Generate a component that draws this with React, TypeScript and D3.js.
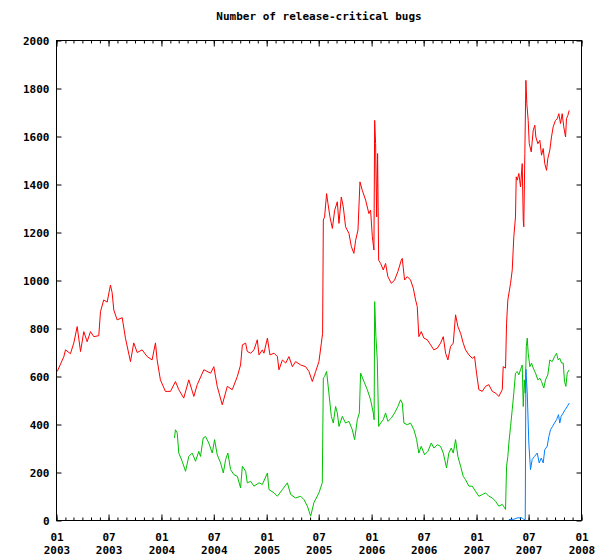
import { useEffect, useRef } from "react"
import * as d3 from "d3"

// [decimal year, number of bugs]
const redSeries: [number, number][] = [
  [2003.007, 621], [2003.07, 683], [2003.086, 711], [2003.133, 695], [2003.165, 740],
  [2003.197, 808], [2003.229, 704], [2003.26, 787], [2003.292, 745], [2003.324, 787],
  [2003.355, 766], [2003.403, 770], [2003.419, 870], [2003.45, 919], [2003.483, 910],
  [2003.514, 981], [2003.53, 950], [2003.546, 877], [2003.578, 836], [2003.626, 845],
  [2003.657, 760], [2003.705, 662], [2003.736, 740], [2003.769, 700], [2003.816, 711],
  [2003.864, 683], [2003.911, 669], [2003.943, 740], [2003.959, 669], [2003.99, 586],
  [2004.038, 538], [2004.086, 538], [2004.133, 579], [2004.165, 545], [2004.212, 510],
  [2004.26, 586], [2004.308, 517], [2004.34, 566], [2004.403, 628], [2004.467, 614],
  [2004.498, 641], [2004.53, 559], [2004.578, 482], [2004.626, 559], [2004.673, 545],
  [2004.721, 600], [2004.752, 648], [2004.769, 732], [2004.8, 739], [2004.816, 704],
  [2004.848, 697], [2004.879, 711], [2004.911, 753], [2004.927, 690], [2004.959, 711],
  [2004.974, 697], [2005.007, 760], [2005.031, 690], [2005.07, 697], [2005.102, 683],
  [2005.117, 628], [2005.15, 669], [2005.181, 656], [2005.212, 683], [2005.245, 641],
  [2005.276, 662], [2005.324, 648], [2005.371, 641], [2005.403, 621], [2005.435, 579],
  [2005.467, 621], [2005.498, 662], [2005.521, 739], [2005.533, 780], [2005.54, 1252],
  [2005.552, 1265], [2005.571, 1362], [2005.584, 1321], [2005.603, 1265], [2005.626, 1217],
  [2005.648, 1293], [2005.673, 1328], [2005.689, 1238], [2005.711, 1348], [2005.73, 1307],
  [2005.752, 1224], [2005.784, 1196], [2005.807, 1141], [2005.831, 1113], [2005.848, 1168],
  [2005.87, 1210], [2005.889, 1411], [2005.911, 1376], [2005.943, 1335], [2005.974, 1279],
  [2005.99, 1293], [2006.007, 1182], [2006.022, 1127], [2006.029, 1667], [2006.038, 1570],
  [2006.048, 1265], [2006.057, 1529], [2006.067, 1085], [2006.086, 1071], [2006.111, 1044],
  [2006.133, 1071], [2006.155, 1016], [2006.188, 988], [2006.219, 1002], [2006.25, 1037],
  [2006.283, 1085], [2006.292, 1092], [2006.314, 1002], [2006.34, 1016], [2006.371, 1002],
  [2006.397, 968], [2006.419, 919], [2006.435, 891], [2006.45, 766], [2006.473, 787],
  [2006.498, 760], [2006.53, 753], [2006.562, 732], [2006.593, 711], [2006.626, 718],
  [2006.657, 739], [2006.683, 766], [2006.705, 697], [2006.727, 669], [2006.752, 725],
  [2006.778, 739], [2006.8, 857], [2006.822, 808], [2006.848, 780], [2006.873, 739],
  [2006.895, 711], [2006.927, 690], [2006.959, 676], [2006.981, 683], [2007.0, 614],
  [2007.022, 545], [2007.054, 538], [2007.086, 559], [2007.117, 566], [2007.15, 538],
  [2007.181, 531], [2007.212, 517], [2007.245, 545], [2007.254, 641], [2007.276, 635],
  [2007.286, 822], [2007.298, 919], [2007.324, 988], [2007.34, 1044], [2007.355, 1182],
  [2007.371, 1265], [2007.378, 1432], [2007.388, 1418], [2007.403, 1446], [2007.419, 1390],
  [2007.435, 1487], [2007.445, 1252], [2007.45, 1224], [2007.46, 1529], [2007.47, 1834],
  [2007.479, 1737], [2007.492, 1667], [2007.502, 1570], [2007.521, 1536], [2007.54, 1626],
  [2007.555, 1647], [2007.565, 1598], [2007.584, 1570], [2007.603, 1584], [2007.619, 1522],
  [2007.635, 1550], [2007.65, 1487], [2007.667, 1459], [2007.679, 1508], [2007.698, 1543],
  [2007.714, 1598], [2007.73, 1640], [2007.752, 1667], [2007.769, 1674], [2007.784, 1695],
  [2007.8, 1654], [2007.816, 1695], [2007.831, 1640], [2007.848, 1598], [2007.857, 1674],
  [2007.87, 1688], [2007.883, 1709],
]

const greenSeries: [number, number][] = [
  [2004.124, 344], [2004.133, 378], [2004.15, 365], [2004.165, 281], [2004.197, 247],
  [2004.229, 205], [2004.26, 267], [2004.292, 281], [2004.324, 247], [2004.355, 288],
  [2004.371, 267], [2004.397, 344], [2004.419, 350], [2004.45, 323], [2004.483, 281],
  [2004.505, 337], [2004.53, 274], [2004.562, 240], [2004.588, 198], [2004.61, 254],
  [2004.631, 281], [2004.657, 212], [2004.689, 191], [2004.721, 184], [2004.752, 136],
  [2004.769, 226], [2004.8, 205], [2004.816, 157], [2004.848, 163], [2004.879, 143],
  [2004.927, 157], [2004.959, 150], [2005.007, 198], [2005.022, 129], [2005.07, 115],
  [2005.102, 101], [2005.15, 129], [2005.197, 157], [2005.229, 108], [2005.276, 94],
  [2005.324, 101], [2005.355, 87], [2005.388, 60], [2005.419, 18], [2005.45, 74],
  [2005.498, 115], [2005.53, 157], [2005.54, 593], [2005.552, 600], [2005.571, 621],
  [2005.593, 531], [2005.616, 434], [2005.635, 406], [2005.657, 475], [2005.673, 448],
  [2005.689, 392], [2005.721, 434], [2005.752, 406], [2005.784, 413], [2005.816, 378],
  [2005.838, 337], [2005.864, 420], [2005.883, 448], [2005.895, 614], [2005.927, 579],
  [2005.959, 545], [2005.99, 503], [2006.016, 448], [2006.024, 420], [2006.029, 912],
  [2006.041, 766], [2006.054, 669], [2006.067, 392], [2006.086, 406], [2006.111, 420],
  [2006.133, 448], [2006.155, 413], [2006.188, 427], [2006.219, 448], [2006.25, 475],
  [2006.276, 503], [2006.292, 489], [2006.308, 406], [2006.34, 399], [2006.371, 406],
  [2006.403, 378], [2006.429, 337], [2006.45, 281], [2006.473, 309], [2006.505, 274],
  [2006.536, 288], [2006.569, 323], [2006.593, 302], [2006.626, 316], [2006.657, 309],
  [2006.683, 281], [2006.714, 219], [2006.736, 281], [2006.759, 302], [2006.778, 281],
  [2006.8, 337], [2006.822, 267], [2006.848, 226], [2006.873, 184], [2006.895, 170],
  [2006.927, 143], [2006.959, 143], [2006.99, 122], [2007.022, 101], [2007.054, 108],
  [2007.086, 115], [2007.117, 101], [2007.15, 94], [2007.181, 80], [2007.212, 60],
  [2007.245, 67], [2007.267, 53], [2007.276, 46], [2007.286, 226], [2007.298, 267],
  [2007.308, 323], [2007.324, 392], [2007.34, 462], [2007.355, 531], [2007.371, 614],
  [2007.388, 621], [2007.403, 607], [2007.419, 628], [2007.435, 648], [2007.445, 475],
  [2007.455, 586], [2007.464, 531], [2007.474, 725], [2007.483, 760], [2007.492, 697],
  [2007.508, 641], [2007.524, 656], [2007.54, 635], [2007.562, 614], [2007.584, 586],
  [2007.603, 593], [2007.619, 579], [2007.641, 552], [2007.657, 586], [2007.679, 607],
  [2007.698, 669], [2007.721, 662], [2007.743, 683], [2007.762, 697], [2007.778, 669],
  [2007.793, 676], [2007.81, 656], [2007.826, 656], [2007.838, 579], [2007.851, 559],
  [2007.864, 614], [2007.883, 628],
]

const blueSeries: [number, number][] = [
  [2007.308, 4], [2007.355, 5], [2007.388, 11], [2007.435, 11], [2007.45, 4],
  [2007.464, 4], [2007.47, 630], [2007.483, 531], [2007.498, 323], [2007.514, 212],
  [2007.53, 254], [2007.552, 267], [2007.578, 281], [2007.597, 240], [2007.616, 260],
  [2007.635, 240], [2007.65, 295], [2007.673, 309], [2007.689, 350], [2007.705, 378],
  [2007.724, 392], [2007.743, 406], [2007.762, 420], [2007.781, 441], [2007.793, 406],
  [2007.806, 434], [2007.826, 448], [2007.845, 462], [2007.864, 475], [2007.883, 489],
]

const yTicks = [0, 200, 400, 600, 800, 1000, 1200, 1400, 1600, 1800, 2000]
const xStart = new Date(2003, 0, 1)
const xEnd = new Date(2008, 0, 1)

const FONT = "'DejaVu Sans Mono', 'Liberation Mono', monospace"

const toDate = (t: number) => {
  const yr = Math.floor(t)
  const a = new Date(yr, 0, 1).getTime()
  const b = new Date(yr + 1, 0, 1).getTime()
  return new Date(a + (t - yr) * (b - a))
}

const BugChart = () => {
  const svgRef = useRef<SVGSVGElement | null>(null)

  useEffect(() => {
    if (!svgRef.current) return
    const svg = d3.select(svgRef.current)
    svg.selectAll("*").remove()

    const left = 56.5
    const right = 581.5
    const top = 40.5
    const bottom = 520.5

    const x = d3.scaleTime().domain([xStart, xEnd]).range([left, right])
    const y = d3.scaleLinear().domain([0, 2000]).range([bottom, top])

    // title
    svg
      .append("text")
      .attr("x", (left + right) / 2)
      .attr("y", 20)
      .attr("text-anchor", "middle")
      .attr("font-family", FONT)
      .attr("font-weight", "bold")
      .attr("font-size", "11px")
      .text("Number of release-critical bugs")

    const majorX = d3.timeMonth.every(6)!.range(xStart, d3.timeDay.offset(xEnd, 1))
    const minorX = d3.timeMonth.range(xStart, d3.timeDay.offset(xEnd, 1))

    const styleAxis = (g: d3.Selection<SVGGElement, unknown, null, undefined>) => {
      g.select(".domain").remove()
      g.selectAll("line").attr("stroke", "#000")
    }

    // minor x ticks (bottom + top)
    svg
      .append("g")
      .attr("transform", `translate(0,${bottom})`)
      .call(d3.axisBottom(x).tickValues(minorX).tickSize(-3).tickFormat(() => ""))
      .call(styleAxis)
    svg
      .append("g")
      .attr("transform", `translate(0,${top})`)
      .call(d3.axisTop(x).tickValues(minorX).tickSize(-3).tickFormat(() => ""))
      .call(styleAxis)

    // major x ticks
    const xAxis = svg
      .append("g")
      .attr("transform", `translate(0,${bottom})`)
      .call(d3.axisBottom(x).tickValues(majorX).tickSize(-6).tickFormat(() => ""))
      .call(styleAxis)
    svg
      .append("g")
      .attr("transform", `translate(0,${top})`)
      .call(d3.axisTop(x).tickValues(majorX).tickSize(-6).tickFormat(() => ""))
      .call(styleAxis)

    xAxis.selectAll<SVGTextElement, Date>(".tick text").each(function (d) {
      const t = d3.select(this)
      t.attr("y", 0).attr("dy", null)
      t.append("tspan").attr("x", 0).attr("y", 20.5).text(d3.timeFormat("%m")(d))
      t.append("tspan").attr("x", 0).attr("y", 33.5).text(d3.timeFormat("%Y")(d))
    })
    xAxis
      .selectAll("text")
      .attr("font-family", FONT)
      .attr("font-weight", "bold")
      .attr("font-size", "11px")
      .attr("fill", "#000")

    // y axes
    svg
      .append("g")
      .attr("transform", `translate(${left},0)`)
      .call(d3.axisLeft(y).tickValues(yTicks).tickSize(-5).tickPadding(7).tickFormat(d3.format("d")))
      .call(styleAxis)
      .call((g) =>
        g
          .selectAll("text")
          .attr("font-family", FONT)
          .attr("font-weight", "bold")
          .attr("font-size", "11px")
          .attr("fill", "#000"),
      )
    svg
      .append("g")
      .attr("transform", `translate(${right},0)`)
      .call(d3.axisRight(y).tickValues(yTicks).tickSize(-5).tickFormat(() => ""))
      .call(styleAxis)

    // frame
    svg
      .append("rect")
      .attr("x", left)
      .attr("y", top)
      .attr("width", right - left)
      .attr("height", bottom - top)
      .attr("fill", "none")
      .attr("stroke", "#000")
      .attr("stroke-width", 1)

    const line = d3
      .line<[number, number]>()
      .x((d) => x(toDate(d[0])))
      .y((d) => y(d[1]))

    const series: [[number, number][], string][] = [
      [redSeries, "#ff0000"],
      [greenSeries, "#00c000"],
      [blueSeries, "#0080ff"],
    ]
    series.forEach(([data, color]) => {
      svg
        .append("path")
        .datum(data)
        .attr("fill", "none")
        .attr("stroke", color)
        .attr("stroke-width", 1)
        .attr("d", line)
    })
  }, [])

  return <svg ref={svgRef} width={606} height={557} style={{ position: "absolute", left: 0, top: 0, background: "#fff" }} />
}

export default function App() {
  return <BugChart />
}
